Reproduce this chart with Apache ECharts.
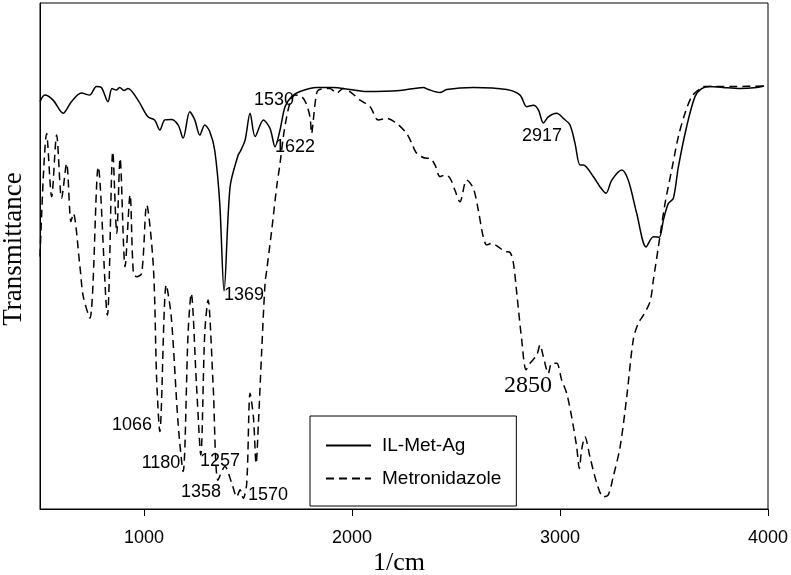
<!DOCTYPE html>
<html>
<head>
<meta charset="utf-8">
<script src="https://cdn.jsdelivr.net/npm/echarts@6/dist/echarts.min.js"></script>
<style>html,body{margin:0;padding:0;background:#fff}#chart{width:791px;height:575px}</style>
</head>
<body>
<div id="chart"></div>
<script>
// ---- data (wavenumber in 1/cm, transmittance in arbitrary %) ----
var seriesNames = ['IL-Met-Ag', 'Metronidazole'];
var xTicks = [1000, 2000, 3000, 4000];

var ilWn = [500,523,563,611,651,699,739,771,795,827,846,867,883,904,923,971,1019,1051,1076,1100,1131,1164,1188,1220,1244,1268,1292,1316,1340,1364,1385,1414,1453,1462,1486,1510,1534,1574,1606,1630,1654,1678,1710,1750,1830,1910,1990,2071,2231,2343,2367,2423,2455,2583,2744,2808,2840,2872,2896,2920,2944,2984,3016,3048,3072,3096,3112,3160,3192,3221,3249,3297,3328,3369,3414,3449,3477,3497,3521,3545,3569,3609,3649,3681,3721,3784,3865,3946,3981];
var ilT = [80.5,81.8,80.8,78.2,80.5,82.2,81.8,83.5,83.3,80.5,83.1,82.8,83.3,82.7,83.1,80.8,77.5,76.9,74.9,76.9,77.0,75.9,73.3,78.5,76.9,73.9,75.9,74.6,70.9,60.5,43.1,63.7,70.0,70.6,72.9,78.2,73.6,76.9,75.2,71.6,74.9,79.5,81.5,82.5,83.3,83.3,82.9,82.5,82.7,83.3,82.9,82.3,82.9,83.3,82.9,81.8,79.5,79.8,78.9,76.3,77.5,78.2,77.2,75.9,72.3,68.0,68.0,65.7,63.7,62.4,65.0,67.0,65.0,58.4,51.8,53.8,53.7,57.1,60.4,61.4,67.6,75.6,81.5,83.1,83.5,83.3,83.1,83.3,83.6];

var metWn = [500,532,556,580,604,628,649,660,692,708,740,780,824,850,869,885,909,933,949,965,989,1013,1045,1061,1076,1107,1131,1164,1188,1212,1227,1252,1273,1292,1308,1332,1356,1389,1422,1446,1462,1477,1494,1510,1526,1539,1550,1566,1582,1590,1614,1638,1654,1670,1686,1702,1726,1758,1779,1798,1806,1814,1827,1838,1894,1926,1958,1990,2039,2087,2126,2167,2215,2263,2287,2311,2359,2375,2399,2423,2447,2471,2495,2519,2551,2583,2607,2631,2648,2672,2703,2736,2760,2776,2792,2816,2837,2856,2888,2904,2920,2944,2960,2984,3008,3032,3056,3080,3093,3104,3120,3144,3177,3208,3232,3256,3289,3321,3352,3376,3401,3433,3449,3473,3505,3537,3569,3601,3633,3665,3689,3833,3986];
var metT = [49.9,74.2,61.7,73.9,61.4,68.3,56.8,58.4,47.9,42.0,37.7,67.6,38.3,70.6,54.5,69.3,47.9,62.1,46.6,45.9,46.6,60.1,47.9,25.5,15.3,44.3,38.0,16.9,7.4,34.8,42.6,24.8,10.7,34.7,41.3,24.8,5.7,8.4,5.1,2.4,3.8,2.1,5.1,22.9,18.2,9.0,16.9,31.4,44.6,47.2,55.1,63.7,68.3,73.6,77.5,80.2,81.8,81.5,80.2,77.5,74.2,76.9,81.5,82.8,83.1,82.2,83.1,82.5,80.8,79.5,76.9,77.2,76.2,74.2,72.3,70.3,69.3,69.3,68.0,65.7,66.0,65.4,63.0,60.7,65.0,63.4,59.1,53.8,52.2,52.5,51.8,50.9,50.7,48.6,42.7,33.4,27.5,28.8,30.4,32.4,30.1,26.8,28.8,28.8,25.5,22.9,18.2,12.3,8.0,11.7,14.3,10.3,5.1,2.4,2.8,6.4,12.3,22.2,33.4,36.7,38.3,41.0,45.3,51.8,60.4,67.0,73.6,78.2,81.5,82.8,83.5,83.5,83.6];

var peakLabels = ['1530','1622','1369','2917','1066','1180','1257','1358','1570','2850'];

// ---- build ----
function pairs(xs, ys){ var out=[]; for (var i=0;i<xs.length;i++) out.push([xs[i], ys[i]]); return out; }

var sans = '"Liberation Sans", Arial, sans-serif';
var serif = '"Liberation Serif", "Times New Roman", serif';

// annotation layout (pixel placement of the peak labels)
var labelPos = {
  '1530':[274,100], '1622':[295,147], '1369':[244,295], '2917':[542,136],
  '1066':[132,425], '1180':[161,463], '1257':[220,461], '1358':[201,492],
  '1570':[268,495]
};
var graphics = [];
peakLabels.forEach(function(t){
  if (t === '2850') {
    graphics.push({type:'text', x:528, y:386, silent:true,
      style:{text:t, font:'24px ' + serif, fill:'#000', textAlign:'center', textVerticalAlign:'middle'}});
  } else {
    var p = labelPos[t];
    graphics.push({type:'text', x:p[0], y:p[1], silent:true,
      style:{text:t, font:'18px ' + sans, fill:'#000', textAlign:'center', textVerticalAlign:'middle'}});
  }
});
graphics.push({type:'text', x:399, y:563, silent:true,
  style:{text:'1/cm', font:'26px ' + serif, fill:'#000', textAlign:'center', textVerticalAlign:'middle'}});
graphics.push({type:'text', x:14, y:249, rotation:Math.PI/2, silent:true,
  style:{text:'Transmittance', font:'27px ' + serif, fill:'#000', textAlign:'center', textVerticalAlign:'middle'}});

var chart = echarts.init(document.getElementById('chart'), null, {renderer:'canvas'});
chart.setOption({
  animation:false,
  backgroundColor:'#fff',
  grid:{left:40, right:23, top:3, bottom:66, show:true, borderColor:'#000', borderWidth:1, backgroundColor:'transparent', outerBoundsMode:'none'},
  legend:{
    data:seriesNames, orient:'vertical', left:310, top:416,
    padding:[20,15,18,15], itemGap:14, itemWidth:45, itemHeight:14,
    borderColor:'#000', borderWidth:1, backgroundColor:'#fff',
    itemStyle:{opacity:0},
    textStyle:{fontFamily:sans, fontSize:19, color:'#000', padding:[0,0,0,6]},
    selectedMode:false
  },
  xAxis:{
    type:'value', min:500, max:4000, interval:500,
    axisLine:{show:true, lineStyle:{color:'#000', width:1}},
    axisTick:{show:true, customValues:xTicks, length:7, inside:false, lineStyle:{color:'#000', width:1}},
    axisLabel:{show:true, customValues:xTicks, margin:20, fontFamily:sans, fontSize:18, color:'#000',
               formatter:function(v){ return String(v); }},
    splitLine:{show:false}
  },
  yAxis:{
    type:'value', min:0, max:100,
    axisLine:{show:true, lineStyle:{color:'#000', width:1}},
    axisTick:{show:false}, axisLabel:{show:false}, splitLine:{show:false}
  },
  series:[
    {name:seriesNames[0], type:'line', data:pairs(ilWn, ilT), symbol:'none', showSymbol:false, smooth:0.3,
     lineStyle:{color:'#000', width:1.5, type:'solid'}, itemStyle:{color:'#000'}, z:3},
    {name:seriesNames[1], type:'line', data:pairs(metWn, metT), symbol:'none', showSymbol:false, smooth:0.3,
     lineStyle:{color:'#000', width:1.5, type:[8,5]}, itemStyle:{color:'#000'}, z:2}
  ],
  graphic:graphics
});
</script>
</body>
</html>
